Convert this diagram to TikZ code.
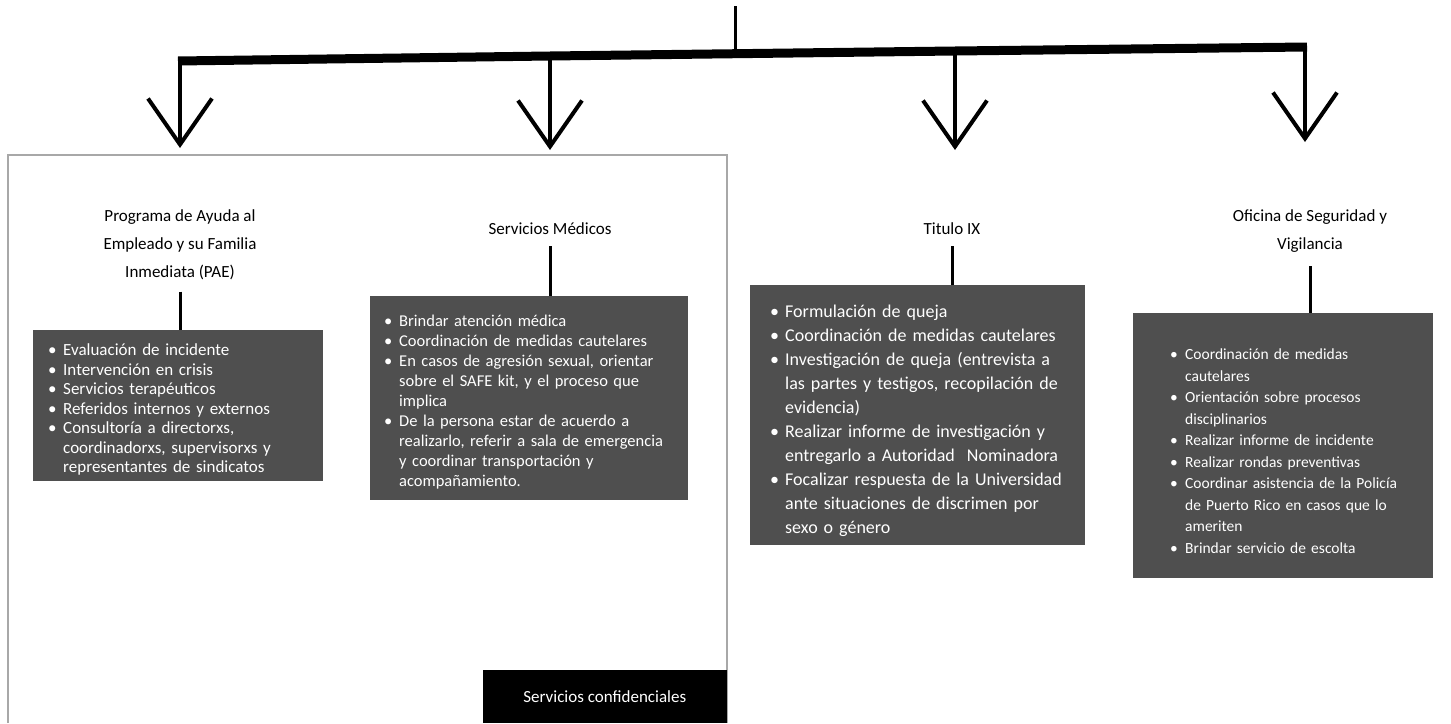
\documentclass[tikz,border=0pt]{standalone}
\usepackage{fontspec}
\setmainfont{Carlito}
\usetikzlibrary{arrows.meta}

\definecolor{boxgray}{HTML}{4F4F4F}
\definecolor{framegray}{HTML}{A8A8A8}

% bullet list for the service boxes, later lines hang under the text
\newenvironment{svclist}[1][15pt]{\raggedright
  \begin{list}{\textbullet}{\setlength{\leftmargin}{#1}\setlength{\labelsep}{0pt}%
    \setlength{\labelwidth}{15pt}\setlength{\itemsep}{0pt}\setlength{\parsep}{0pt}%
    \setlength{\topsep}{0pt}\setlength{\partopsep}{0pt}%
    \renewcommand{\makelabel}[1]{##1\hfil}}}
  {\end{list}}

\begin{document}
\begin{tikzpicture}[x=1pt, y=-1pt,
    svctitle/.style={inner sep=0pt, anchor=north, align=center,
      font=\fontsize{17}{28}\selectfont},
    svcbox/.style={fill=boxgray, text=white, anchor=north west, inner xsep=15pt,
      inner ysep=6pt},
    stem/.style={line width=3pt},
    drop/.style={line width=4pt, -{Straight Barb[length=46pt, width=64pt, line width=4pt]}}]
  \useasboundingbox (0, 0) rectangle (1451, 723);

  % confidential services frame
  \draw[framegray, line width=1.5pt] (8, 723) -- (8, 155) -- (727, 155) -- (727, 723);
  \node[fill=black, text=white, minimum width=244pt, minimum height=53pt, anchor=south east,
    font=\fontsize{17}{20}\selectfont] (conf) at (727, 723) {Servicios confidenciales};

  % top of the tree
  \coordinate (top) at (735, 6);
  \coordinate (bpae) at (180, 61);
  \coordinate (bmed) at (550, 56);
  \coordinate (btix) at (955, 51);
  \coordinate (bosv) at (1305, 47);
  \coordinate (bmid) at (735, 54);
  \draw[stem] (top) -- (bmid);
  \draw[line width=9pt] ([xshift=-2pt]bpae) -- (bmed) -- (btix) -- ([xshift=2pt]bosv);

  \coordinate (tpae) at (180, 148);
  \coordinate (tmed) at (550, 150);
  \coordinate (ttix) at (955, 150);
  \coordinate (tosv) at (1305, 142);
  \draw[drop] (bpae) -- (tpae);
  \draw[drop] (bmed) -- (tmed);
  \draw[drop] (btix) -- (ttix);
  \draw[drop] (bosv) -- (tosv);

  % titles
  \node[svctitle] (paeT) at (180, 209) {Programa de Ayuda al\\Empleado y su Familia\\Inmediata (PAE)};
  \node[svctitle] (medT) at (550, 222) {Servicios Médicos};
  \node[svctitle] (tixT) at (952, 222) {Titulo IX};
  \node[svctitle] (osvT) at (1310, 209) {Oficina de Seguridad y\\Vigilancia};

  % boxes
  \node[svcbox, text width=260pt, minimum height=132pt,
    font=\fontsize{17}{19.5}\selectfont] (pae) at (33, 330) {%
    \begin{svclist}
    \item Evaluación de incidente
    \item Intervención en crisis
    \item Servicios terapéuticos
    \item Referidos internos y externos
    \item Consultoría a directorxs,\\coordinadorxs, supervisorxs y\\representantes de sindicatos
    \end{svclist}};
  \node[svcbox, text width=294pt, minimum height=204pt, inner xsep=12pt,
    font=\fontsize{16.5}{20}\selectfont] (med) at (370, 296) {%
    \begin{svclist}[17pt]
    \item Brindar atención médica
    \item Coordinación de medidas cautelares
    \item En casos de agresión sexual, orientar\\sobre el SAFE kit, y el proceso que\\implica
    \item De la persona estar de acuerdo a\\realizarlo, referir a sala de emergencia\\y coordinar transportación y\\acompañamiento.
    \end{svclist}};
  \node[svcbox, text width=299pt, minimum height=260pt, inner xsep=18pt,
    font=\fontsize{18}{24}\selectfont] (tix) at (750, 285) {%
    \begin{svclist}[17pt]
    \item Formulación de queja
    \item Coordinación de medidas cautelares
    \item Investigación de queja (entrevista a\\las partes y testigos, recopilación de\\evidencia)
    \item Realizar informe de investigación y\\entregarlo a Autoridad~ Nominadora
    \item Focalizar respuesta de la Universidad\\ante situaciones de discrimen por\\sexo o género
    \end{svclist}};
  \node[svcbox, text width=276pt, minimum height=265pt, inner xsep=12pt,
    font=\fontsize{15.5}{21.5}\selectfont] (osv) at (1133, 313) {%
    \begin{svclist}[40pt]
    \item Coordinación de medidas\\cautelares
    \item Orientación sobre procesos\\disciplinarios
    \item Realizar informe de incidente
    \item Realizar rondas preventivas
    \item Coordinar asistencia de la Policía\\de Puerto Rico en casos que lo\\ameriten
    \item Brindar servicio de escolta
    \end{svclist}};

  % stems from titles to boxes
  \draw[stem] ([yshift=-12pt]paeT.south) -- (pae.north -| paeT.south);
  \draw[stem] ([yshift=-12pt]medT.south) -- (med.north -| medT.south);
  \draw[stem] ([yshift=-12pt]tixT.south) -- (tix.north -| tixT.south);
  \draw[stem] ([yshift=-14pt]osvT.south) -- (osv.north -| osvT.south);
\end{tikzpicture}
\end{document}
